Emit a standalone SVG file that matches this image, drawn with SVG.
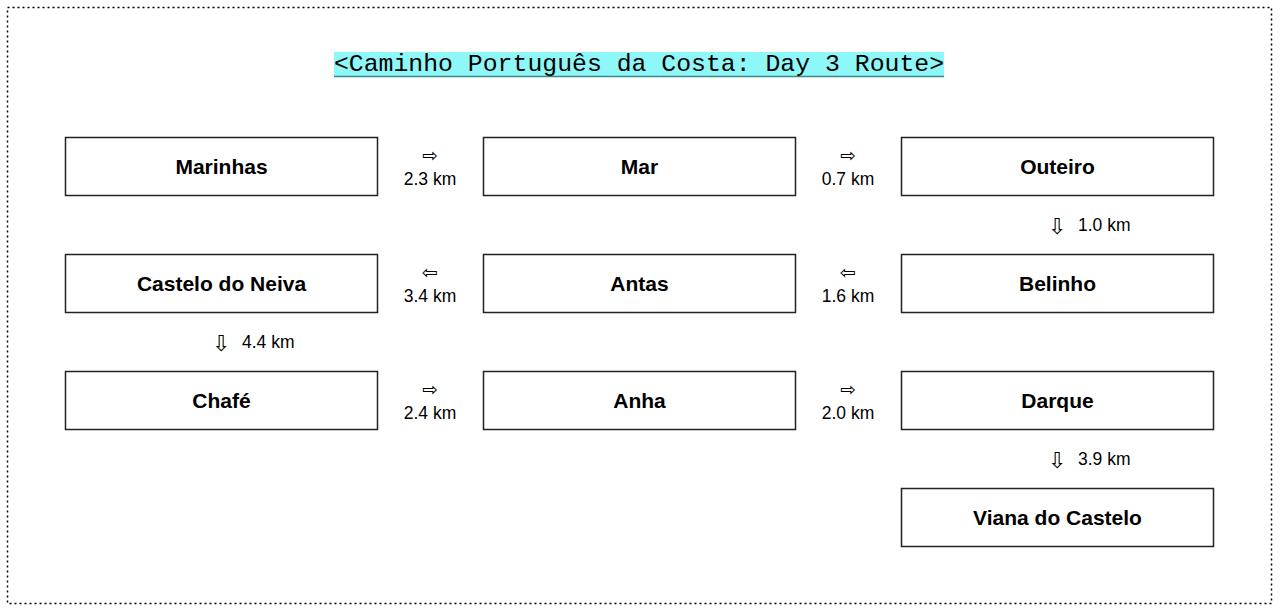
<svg xmlns="http://www.w3.org/2000/svg" width="1280" height="614" viewBox="0 0 1280 614">
<style>
.node rect{fill:#fff;stroke:#222;stroke-width:1.5}
.node text{font-family:"Liberation Sans",Arial,sans-serif;font-weight:bold;font-size:21px;text-anchor:middle;fill:#000}
.lbl{font-family:"Liberation Sans",Arial,sans-serif;font-size:17.5px;fill:#000;text-anchor:middle}
.arr{font-family:"DejaVu Sans",sans-serif;font-size:19px;fill:#000;text-anchor:middle}
.varr{font-family:"DejaVu Sans",sans-serif;font-size:22px;fill:#000;text-anchor:middle}
.vl{font-family:"Liberation Sans",Arial,sans-serif;font-size:17.5px;fill:#000}
</style>
<rect x="0" y="0" width="1280" height="614" fill="#fff"/>
<rect x="7.5" y="7.5" width="1264" height="596" fill="none" stroke="#000" stroke-width="1.5" stroke-dasharray="2,3"/>
<g id="title">
<rect x="334" y="52" width="610" height="25" fill="#8ef8f8"/>
<line x1="334" y1="76.5" x2="944" y2="76.5" stroke="#3a8a8a" stroke-width="1.5"/>
<text x="639" y="71" font-family="'Liberation Mono','Courier New',monospace" font-size="24.8" text-anchor="middle" fill="#000">&lt;Caminho Português da Costa: Day 3 Route&gt;</text>
</g>
<g id="n1" class="node"><rect x="65.5" y="137.5" width="312" height="58"/><text x="221.5" y="174">Marinhas</text></g>
<g id="n2" class="node"><rect x="483.5" y="137.5" width="312" height="58"/><text x="639.5" y="174">Mar</text></g>
<g id="n3" class="node"><rect x="901.5" y="137.5" width="312" height="58"/><text x="1057.5" y="174">Outeiro</text></g>
<g id="n4" class="node"><rect x="901.5" y="254.5" width="312" height="58"/><text x="1057.5" y="291">Belinho</text></g>
<g id="n5" class="node"><rect x="483.5" y="254.5" width="312" height="58"/><text x="639.5" y="291">Antas</text></g>
<g id="n6" class="node"><rect x="65.5" y="254.5" width="312" height="58"/><text x="221.5" y="291">Castelo do Neiva</text></g>
<g id="n7" class="node"><rect x="65.5" y="371.5" width="312" height="58"/><text x="221.5" y="408">Chafé</text></g>
<g id="n8" class="node"><rect x="483.5" y="371.5" width="312" height="58"/><text x="639.5" y="408">Anha</text></g>
<g id="n9" class="node"><rect x="901.5" y="371.5" width="312" height="58"/><text x="1057.5" y="408">Darque</text></g>
<g id="n10" class="node"><rect x="901.5" y="488.5" width="312" height="58"/><text x="1057.5" y="525">Viana do Castelo</text></g>
<g id="connectors">
<text class="arr" x="430" y="162">⇨</text><text class="lbl" x="430" y="185">2.3 km</text>
<text class="arr" x="848" y="162">⇨</text><text class="lbl" x="848" y="185">0.7 km</text>
<text class="varr" x="1057" y="234">⇩</text><text class="vl" x="1078" y="231">1.0 km</text>
<text class="arr" x="848" y="279">⇦</text><text class="lbl" x="848" y="302">1.6 km</text>
<text class="arr" x="430" y="279">⇦</text><text class="lbl" x="430" y="302">3.4 km</text>
<text class="varr" x="221" y="351">⇩</text><text class="vl" x="242" y="348">4.4 km</text>
<text class="arr" x="430" y="396">⇨</text><text class="lbl" x="430" y="419">2.4 km</text>
<text class="arr" x="848" y="396">⇨</text><text class="lbl" x="848" y="419">2.0 km</text>
<text class="varr" x="1057" y="468">⇩</text><text class="vl" x="1078" y="465">3.9 km</text>
</g>
</svg>
